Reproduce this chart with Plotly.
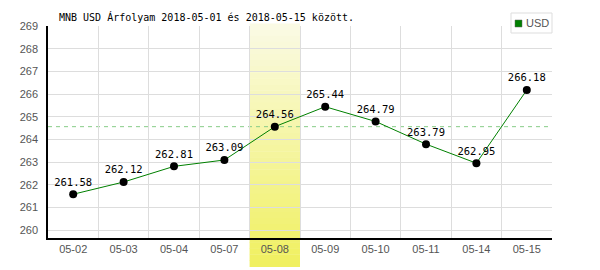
import plotly.graph_objects as go

dates = ["05-02", "05-03", "05-04", "05-07", "05-08", "05-09", "05-10", "05-11", "05-14", "05-15"]
usd = [261.58, 262.12, 262.81, 263.09, 264.56, 265.44, 264.79, 263.79, 262.95, 266.18]
highlight = "05-08"
y_ticks = [260, 261, 262, 263, 264, 265, 266, 267, 268, 269]
title = "MNB USD Árfolyam 2018-05-01 és 2018-05-15 között."
series_name = "USD"

mono = "DejaVu Sans Mono"
W, H = 600, 270
L, R, T, B = 48, 48, 26, 32
pw = W - L - R
ph = H - T - B

fig = go.Figure()
fig.add_trace(go.Scatter(
    x=dates, y=usd, mode="lines+markers+text",
    line=dict(color="#008000", width=1),
    marker=dict(color="black", size=8),
    text=[f"{v:.2f}" for v in usd], textposition="top center",
    textfont=dict(family=mono, size=10.5, color="black"),
    showlegend=False, cliponaxis=False,
))

# gradient highlight band
hi = dates.index(highlight)
n = 40
y_top = 1 + 2 / ph
y_bot = -(267 - (H - B)) / ph
c0 = (250, 250, 228)
c1 = (240, 240, 96)
for i in range(n):
    t = i / (n - 1)
    col = tuple(round(c0[k] + (c1[k] - c0[k]) * t) for k in range(3))
    ya = y_top - (y_top - y_bot) * i / n
    yb = y_top - (y_top - y_bot) * (i + 1) / n
    fig.add_shape(type="rect", xref="x", yref="paper", x0=hi - 0.5, x1=hi + 0.5,
                  y0=yb, y1=ya + 0.002, fillcolor="rgb(%d,%d,%d)" % col,
                  line=dict(width=0), layer="between")

fig.add_shape(type="line", xref="paper", yref="y", x0=0, x1=1,
              y0=usd[hi], y1=usd[hi],
              line=dict(color="#88cc88", width=1, dash="4px,4px"), layer="between")

# legend box (drawn manually)
def px_x(x):
    return (x - L) / pw
def px_y(y):
    return (H - B - y) / ph

fig.add_shape(type="rect", xref="paper", yref="paper",
              x0=px_x(511), x1=px_x(552), y0=px_y(33), y1=px_y(13),
              line=dict(color="#dddddd", width=1), fillcolor="white", layer="above")
fig.add_shape(type="rect", xref="paper", yref="paper",
              x0=px_x(515), x1=px_x(522), y0=px_y(27), y1=px_y(20),
              line=dict(color="#666666", width=0.5), fillcolor="#008000", layer="above")
fig.add_annotation(text=series_name, xref="paper", yref="paper",
                   x=px_x(524), y=px_y(23.5), xanchor="left", yanchor="middle",
                   showarrow=False, font=dict(family="Liberation Sans", size=11, color="#555"))

fig.add_annotation(text=title, xref="paper", yref="paper",
                   x=px_x(57), y=px_y(17), xanchor="left", yanchor="middle",
                   showarrow=False, font=dict(family=mono, size=10, color="black"))

fig.update_layout(
    width=W, height=H, margin=dict(l=L, r=R, t=T, b=B, autoexpand=False),
    paper_bgcolor="white", plot_bgcolor="white", showlegend=False,
)
fig.update_xaxes(type="category", tickson="boundaries", showgrid=True, gridcolor="#dddddd",
                 gridwidth=1, ticks="", showline=True, linecolor="black", linewidth=1.5,
                 mirror=False, range=[-0.5, len(dates) - 0.5], automargin=False,
                 tickfont=dict(family="Liberation Sans", size=11, color="#555"))
fig.update_yaxes(range=[259.65, 269], tickvals=y_ticks, showgrid=True, gridcolor="#dddddd",
                 gridwidth=1, ticks="", showline=True, linecolor="black", linewidth=1.5,
                 zeroline=False, ticklabelstandoff=6, automargin=False,
                 tickfont=dict(family="Liberation Sans", size=11, color="#555"))

fig.write_html("out.html")
